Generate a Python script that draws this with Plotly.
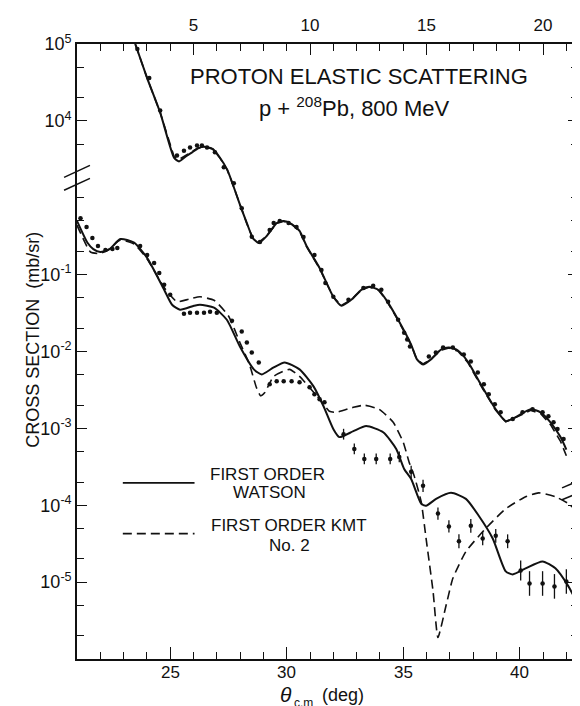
import plotly.graph_objects as go

# ---------------- data ----------------
# Upper set (top axis, theta 0-21.5 deg), cross section in mb/sr (labels 10^5, 10^4)
upper_fit_theta = [2.30, 2.50, 3.01, 3.57, 4.17, 4.38, 4.70, 4.94, 5.20, 5.45, 5.83, 6.13, 6.45,
                   6.73, 7.00, 7.29, 7.55, 7.80, 8.14, 8.57, 8.87, 9.21, 9.55, 9.85, 10.41, 11.00,
                   11.35, 11.77, 12.20, 12.54, 12.93, 13.27, 13.78, 14.34, 14.59, 14.85, 15.19,
                   15.62, 15.96, 16.35, 16.77, 17.33, 17.97, 18.40, 18.82, 19.47, 19.89, 20.32,
                   20.75, 21.00]
upper_watson = [1.45e5, 1.0e5, 3.6e4, 1.28e4, 3.3e3, 2.97e3, 3.5e3, 3.9e3, 4.4e3, 4.6e3, 4.3e3,
                3.34e3, 2.3e3, 1.37e3, 800, 468, 299, 258, 318, 468, 497, 455, 370, 236, 122,
                51.5, 39.4, 47, 63.5, 69.4, 63.5, 47, 25.9, 12.3, 7.9, 6.8, 7.9, 10.6, 11.3,
                10.3, 7.4, 3.74, 1.77, 1.24, 1.40, 1.77, 1.62, 1.20, 0.77, 0.53]
upper_kmt = [1.45e5, 1.0e5, 3.6e4, 1.28e4, 3.4e3, 3.15e3, 3.6e3, 4.0e3, 4.45e3, 4.6e3, 4.3e3,
             3.3e3, 2.3e3, 1.37e3, 790, 460, 295, 262, 320, 465, 495, 452, 365, 232, 120,
             51, 39.8, 47, 63, 69, 63, 46.5, 25.5, 12.1, 7.8, 6.9, 7.9, 10.4, 11.1,
             10.1, 7.2, 3.6, 1.72, 1.22, 1.38, 1.72, 1.56, 1.12, 0.68, 0.44]
upper_data_theta = [2.59, 3.10, 3.57, 4.29, 4.59, 4.85, 5.15, 5.36, 5.58, 5.92, 6.30, 6.73, 7.07,
                    7.50, 7.85, 8.27, 8.44, 8.70, 9.08, 9.42, 9.72, 10.19, 10.49, 10.66, 11.00,
                    11.65, 12.29, 12.71, 13.06, 13.35, 13.78, 14.04, 14.17, 14.29, 15.10, 15.40,
                    15.71, 16.13, 16.60, 16.90, 17.20, 17.46, 17.67, 17.93, 18.18, 18.70, 19.12,
                    19.55, 19.98, 20.23, 20.45, 20.62, 20.88]
upper_data = [8.6e4, 3.6e4, 1.36e4, 3.55e3, 4.1e3, 4.5e3, 4.8e3, 4.8e3, 4.5e3, 3.9e3, 2.5e3,
              1.54e3, 730, 310, 265, 380, 468, 497, 468, 415, 309, 180, 115, 78, 51.5, 47, 67,
              71.5, 63.5, 44.4, 25.9, 17.6, 14.3, 11.6, 8.6, 9.7, 11.3, 11.3, 9.15, 7.4, 5.35,
              3.74, 2.77, 2.06, 1.62, 1.32, 1.62, 1.77, 1.62, 1.44, 1.20, 0.98, 0.73]
UPPER_OFFSET = 1e3  # upper set drawn three decades higher on the shared axis

# Lower set (bottom axis, theta 21-42.5 deg), cross section in mb/sr
lower_watson_theta = [21.00, 21.45, 21.70, 22.00, 22.40, 22.86, 23.45, 24.01, 24.74, 25.08, 25.42,
                      26.02, 26.28, 26.88, 27.43, 27.99, 28.59, 28.93, 29.44, 29.91, 30.55, 31.15,
                      31.58, 32.00, 32.26, 32.86, 33.41, 34.14, 34.70, 35.04, 35.34, 35.77, 35.98,
                      36.41, 37.05, 37.69, 38.24, 38.84, 39.40, 39.70, 40.25, 40.98, 41.53, 42.09,
                      42.47]
lower_watson = [0.50, 0.26, 0.215, 0.197, 0.215, 0.29, 0.26, 0.165, 0.0635, 0.0406, 0.035, 0.0394,
                0.0406, 0.0371, 0.0259, 0.0116, 0.00585, 0.00504, 0.00621, 0.00721, 0.00585,
                0.00352, 0.00194, 0.00098, 0.00077, 0.00092, 0.00107, 0.00089, 0.00054, 2.97e-4,
                2.2e-4, 1.05e-4, 9.86e-5, 1.21e-4, 1.45e-4, 1.21e-4, 7.3e-5, 3.7e-5, 1.38e-5,
                1.26e-5, 1.51e-5, 1.86e-5, 1.51e-5, 8.8e-6, 5.3e-6]
lower_kmt_theta = [21.00, 21.58, 21.96, 22.30, 22.86, 23.45, 24.01, 24.74, 25.29, 25.80, 26.28,
                   26.90, 27.50, 27.99, 28.40, 28.70, 28.88, 29.05, 29.44, 30.12, 30.55, 31.41,
                   31.83, 32.13, 32.86, 33.33, 33.97, 34.57, 35.00, 35.25, 35.47, 35.77, 35.98,
                   36.28, 36.49, 36.84, 37.13, 37.69, 38.54, 39.40, 40.25, 40.81, 41.53, 42.09,
                   42.47]
lower_kmt = [0.44, 0.197, 0.188, 0.205, 0.282, 0.25, 0.16, 0.068, 0.0444, 0.048, 0.0515, 0.046,
             0.029, 0.0131, 0.0068, 0.0034, 0.00265, 0.0029, 0.00474, 0.00585, 0.00474, 0.00239,
             0.00167, 0.00162, 0.00188, 0.0020, 0.00177, 0.0012, 0.00066, 3.66e-4, 2.41e-4,
             1.11e-4, 3.7e-5, 7.6e-6, 1.9e-6, 5.0e-6, 1.12e-5, 2.5e-5, 5.0e-5, 9.0e-5, 1.29e-4,
             1.45e-4, 1.29e-4, 1.05e-4, 8.2e-5]
lower_data_theta = [21.15, 21.41, 21.66, 21.90, 22.22, 22.52, 22.73, 23.71, 24.01, 24.31, 24.53,
                    24.74, 25.00, 25.59, 25.85, 26.15, 26.45, 26.71, 27.00, 27.65, 28.07, 28.29,
                    28.50, 28.80, 29.27, 29.57, 29.87, 30.21, 30.55, 30.98, 31.19, 31.41, 31.62]
lower_data = [0.54, 0.415, 0.30, 0.236, 0.209, 0.215, 0.222, 0.236, 0.18, 0.142, 0.105, 0.0737,
              0.0547, 0.031, 0.032, 0.032, 0.032, 0.033, 0.032, 0.0252, 0.0182, 0.0131, 0.0097,
              0.00721, 0.00374, 0.00409, 0.00409, 0.00409, 0.00397, 0.00342, 0.00277, 0.00239,
              0.00219]
lower_err_theta = [32.44, 32.90, 33.33, 33.84, 34.44, 34.83, 35.34, 35.85, 36.49, 36.96, 37.39,
                   37.90, 38.41, 38.97, 39.48, 40.04, 40.42, 40.98, 41.49, 42.00, 42.43]
lower_err_data = [8.4e-4, 5.4e-4, 4.0e-4, 4.0e-4, 4.0e-4, 4.25e-4, 2.72e-4, 1.79e-4, 7.8e-5,
                  5.3e-5, 3.4e-5, 5.4e-5, 3.7e-5, 4.0e-5, 3.4e-5, 1.42e-5, 9.6e-6, 9.6e-6,
                  8.8e-6, 1.02e-5, 7.1e-6]
lower_err_decades = [0.07, 0.07, 0.07, 0.07, 0.07, 0.07, 0.08, 0.08, 0.08, 0.08, 0.09, 0.09,
                     0.09, 0.09, 0.09, 0.13, 0.16, 0.16, 0.16, 0.16, 0.16]

bottom_ticks = [25, 30, 35, 40]
top_ticks = [5, 10, 15, 20]
y_major_vals = [1e2, 1e1, 1e-1, 1e-2, 1e-3, 1e-4, 1e-5]
y_major_text = ["10<sup>5</sup>", "10<sup>4</sup>", "10<sup>-1</sup>", "10<sup>-2</sup>",
                "10<sup>-3</sup>", "10<sup>-4</sup>", "10<sup>-5</sup>"]
y_minor_vals = [5e1, 2e1, 5, 1, 0.5, 0.2, 5e-2, 2e-2, 5e-3, 2e-3, 5e-4, 2e-4, 5e-5, 2e-5, 5e-6, 2e-6]

# ---------------- figure ----------------
FONT = "Liberation Sans"
BLACK = "#111111"
fig = go.Figure()

def up(vals):
    return [v / UPPER_OFFSET for v in vals]

fig.add_trace(go.Scatter(x=upper_fit_theta, y=up(upper_kmt), xaxis="x2", yaxis="y", mode="lines",
                         line=dict(color=BLACK, width=1.6, dash="9px,5px")))
fig.add_trace(go.Scatter(x=upper_fit_theta, y=up(upper_watson), xaxis="x2", yaxis="y", mode="lines",
                         line=dict(color=BLACK, width=2, shape="spline", smoothing=0.6)))
fig.add_trace(go.Scatter(x=upper_data_theta, y=up(upper_data), xaxis="x2", yaxis="y", mode="markers",
                         marker=dict(color=BLACK, size=4.5)))

fig.add_trace(go.Scatter(x=lower_kmt_theta, y=lower_kmt, mode="lines",
                         line=dict(color=BLACK, width=1.6, dash="9px,5px", shape="spline", smoothing=0.5)))
fig.add_trace(go.Scatter(x=lower_watson_theta, y=lower_watson, mode="lines",
                         line=dict(color=BLACK, width=2, shape="spline", smoothing=0.6)))
fig.add_trace(go.Scatter(x=lower_data_theta, y=lower_data, mode="markers",
                         marker=dict(color=BLACK, size=4.5)))
err_plus = [v * (10 ** d - 1) for v, d in zip(lower_err_data, lower_err_decades)]
err_minus = [v * (1 - 10 ** (-d)) for v, d in zip(lower_err_data, lower_err_decades)]
fig.add_trace(go.Scatter(x=lower_err_theta, y=lower_err_data, mode="markers",
                         marker=dict(color=BLACK, size=4.5),
                         error_y=dict(type="data", symmetric=False, array=err_plus,
                                      arrayminus=err_minus, width=0, thickness=1.3, color=BLACK)))

# plot box in pixels: left 69, right 572, top 33, bottom 651
L, R, T, B = 69, 8, 33, 55
W, H = 580, 706
pw = W - L - R
ph = H - T - B

def px(x):
    return (x - L) / pw

def py(y):
    return (H - B - y) / ph

fig.update_layout(
    width=W, height=H, margin=dict(l=L, r=R, t=T, b=B),
    paper_bgcolor="white", plot_bgcolor="white", showlegend=False,
    font=dict(family=FONT, color=BLACK, size=18),
    xaxis=dict(range=[21, 42.5], showgrid=False, zeroline=False, showline=True,
               linecolor=BLACK, linewidth=1.6, ticks="inside", tickvals=bottom_ticks,
               ticklen=12, tickwidth=1.3, tickcolor=BLACK, showticklabels=False,
               minor=dict(dtick=1, tick0=0, ticks="inside", ticklen=7, tickwidth=1.3,
                          tickcolor=BLACK, showgrid=False)),
    xaxis2=dict(range=[0, 21.5], overlaying="x", side="top", anchor="y", showgrid=False,
                zeroline=False, showline=True, linecolor=BLACK, linewidth=1.6, ticks="inside",
                tickvals=top_ticks, ticklen=11, tickwidth=1.3, tickcolor=BLACK,
                tickfont=dict(size=17), ticklabelstandoff=4,
                minor=dict(dtick=1, tick0=0, ticks="inside", ticklen=7, tickwidth=1.3,
                           tickcolor=BLACK, showgrid=False)),
    yaxis=dict(type="log", range=[-6, 2], showgrid=False, zeroline=False, showline=True,
               linecolor=BLACK, linewidth=1.6, mirror="ticks", ticks="inside",
               tickvals=y_major_vals, ticktext=y_major_text, ticklen=10, tickwidth=1.3,
               tickcolor=BLACK, tickfont=dict(size=18),
               minor=dict(tickvals=y_minor_vals, ticks="inside", ticklen=7, tickwidth=1.3,
                          tickcolor=BLACK, showgrid=False)),
)

ann = []
# bottom-axis tick labels placed at their data positions
for t in bottom_ticks:
    ann.append(dict(text=str(t), x=t, xref="x", y=py(665), yref="paper", showarrow=False,
                    font=dict(size=17), xanchor="center", yanchor="middle", borderpad=0))
ann.append(dict(text="PROTON ELASTIC SCATTERING", x=px(352), y=py(66), xref="paper", yref="paper",
                showarrow=False, font=dict(size=22), xanchor="center", yanchor="middle"))
ann.append(dict(text="p + <sup>208</sup>Pb, 800 MeV", x=px(348), y=py(96), xref="paper",
                yref="paper", showarrow=False, font=dict(size=22), xanchor="center",
                yanchor="middle"))
ann.append(dict(text="FIRST ORDER", x=px(260), y=py(466), xref="paper", yref="paper",
                showarrow=False, font=dict(size=17), xanchor="center", yanchor="middle"))
ann.append(dict(text="WATSON", x=px(262), y=py(484), xref="paper", yref="paper",
                showarrow=False, font=dict(size=17), xanchor="center", yanchor="middle"))
ann.append(dict(text="FIRST ORDER KMT", x=px(282), y=py(517), xref="paper", yref="paper",
                showarrow=False, font=dict(size=17), xanchor="center", yanchor="middle"))
ann.append(dict(text="No. 2", x=px(282), y=py(537), xref="paper", yref="paper",
                showarrow=False, font=dict(size=17), xanchor="center", yanchor="middle"))
ann.append(dict(text="CROSS SECTION  (mb/sr)", x=px(24), y=py(330), xref="paper", yref="paper",
                showarrow=False, textangle=-90, font=dict(size=18), xanchor="center",
                yanchor="middle"))
# x-axis title: theta, subscript c.m, (deg)
ann.append(dict(text="<i>θ</i>", x=px(279), y=py(687), xref="paper", yref="paper",
                showarrow=False, font=dict(size=21), xanchor="center", yanchor="middle",
                borderpad=0))
ann.append(dict(text="c.m", x=px(296), y=py(695), xref="paper", yref="paper",
                showarrow=False, font=dict(size=12), xanchor="center", yanchor="middle",
                borderpad=0))
ann.append(dict(text="(deg)", x=px(336), y=py(687), xref="paper", yref="paper",
                showarrow=False, font=dict(size=18), xanchor="center", yanchor="middle",
                borderpad=0))
fig.update_layout(annotations=ann)

shapes = []
# legend line samples
shapes.append(dict(type="line", xref="paper", yref="paper", x0=px(115), x1=px(187),
                   y0=py(474), y1=py(474), line=dict(color=BLACK, width=1.6)))
shapes.append(dict(type="line", xref="paper", yref="paper", x0=px(115), x1=px(187),
                   y0=py(525), y1=py(525), line=dict(color=BLACK, width=1.6, dash="9px,5px")))
# axis break marks
for (x0, y0, x1, y1) in [(56, 167, 82, 155), (56, 180, 82, 168),
                         (556, 479, 582, 468), (556, 491, 582, 480)]:
    shapes.append(dict(type="line", xref="paper", yref="paper", x0=px(x0), x1=px(x1),
                       y0=py(y0), y1=py(y1), line=dict(color=BLACK, width=1.5)))
fig.update_layout(shapes=shapes)

fig.write_html("out.html")
